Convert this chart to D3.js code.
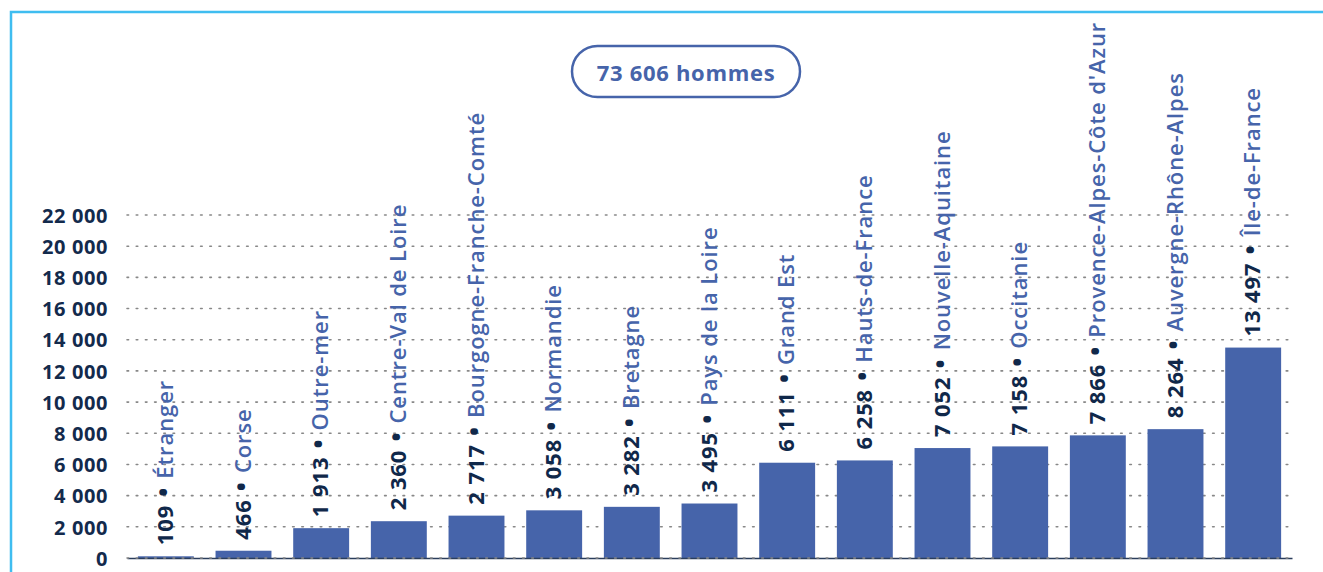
<!DOCTYPE html>
<html><head><meta charset="utf-8">
<script src="https://cdn.jsdelivr.net/npm/d3@7"></script>
<style>body{margin:0;background:#fff}svg{display:block}</style>
</head><body>
<svg id="c" width="1323" height="572"></svg>
<script>
const categories = ["Étranger","Corse","Outre-mer","Centre-Val de Loire","Bourgogne-Franche-Comté","Normandie","Bretagne","Pays de la Loire","Grand Est","Hauts-de-France","Nouvelle-Aquitaine","Occitanie","Provence-Alpes-Côte d'Azur","Auvergne-Rhône-Alpes","Île-de-France"];
const values = [109,466,1913,2360,2717,3058,3282,3495,6111,6258,7052,7158,7866,8264,13497];
const yTicks = [0,2000,4000,6000,8000,10000,12000,14000,16000,18000,20000,22000];
const title = "73 606 hommes";

const svg = d3.select("#c");
const fmt = v => d3.format(",")(v).replace(/,/g, " ");
const FONT = "'Open Sans', 'Noto Sans', sans-serif";

// frame
svg.append("path").attr("d","M11,572 V12 H1323").attr("fill","none").attr("stroke","#3fbdf0").attr("stroke-width",2.5);

const x = d3.scaleBand().domain(categories).range([127,1292]).paddingInner(0.28).paddingOuter(0.14);
const y = d3.scaleLinear().domain([0,22000]).range([558,215]);

// y axis labels
const yAxis = d3.axisLeft(y).tickValues(yTicks).tickFormat(fmt).tickSize(0).tickPadding(0);
const ga = svg.append("g").attr("transform","translate(108,0)").call(yAxis);
ga.select(".domain").remove();
ga.selectAll("text").attr("font-family",FONT).attr("font-weight","bold").attr("font-size",20)
  .attr("letter-spacing",0.6).attr("fill","#132a4c").attr("dy","0.36em");

// grid
svg.append("g").selectAll("line").data(yTicks.filter(d=>d>0)).join("line")
  .attr("x1",127).attr("x2",1292).attr("y1",d=>y(d)).attr("y2",d=>y(d))
  .attr("stroke","#888").attr("stroke-width",1.6).attr("stroke-dasharray","1.6,7.6").attr("stroke-linecap","round");

// bars
svg.append("g").selectAll("rect").data(values).join("rect")
  .attr("x",(d,i)=>x(categories[i])).attr("width",x.bandwidth())
  .attr("y",d=>y(d)).attr("height",d=>y(0)-y(d)).attr("fill","#4664aa");

// baseline
const gb = svg.append("g").attr("transform","translate(0,558)").call(d3.axisBottom(x).tickSize(0).tickFormat(""));
gb.select(".domain").attr("stroke","#2a3d5c").attr("stroke-width",1.3);
svg.append("line").attr("x1",127).attr("x2",1292).attr("y1",558).attr("y2",558)
  .attr("stroke","#888").attr("stroke-width",1.6).attr("stroke-dasharray","1.6,7.6").attr("stroke-linecap","round");

// labels
const lab = svg.append("g").selectAll("text").data(values).join("text")
  .attr("transform",(d,i)=>`translate(${x(categories[i])+x.bandwidth()/2+7},${y(d)-11}) rotate(-90)`)
  .attr("font-family",FONT).attr("font-size",22).attr("letter-spacing",0.9);
lab.append("tspan").attr("font-weight","bold").attr("fill","#10284a").text(d=>fmt(d));
lab.append("tspan").attr("fill","#10284a").attr("font-weight","bold").text(" ");
lab.append("tspan").attr("fill","#10284a").attr("font-size",32).attr("dy",2).text("•");
lab.append("tspan").attr("fill","#4664aa").attr("dy",-2).text(" ");
lab.append("tspan").attr("fill","#4664aa").attr("font-weight",600).text((d,i)=>categories[i]);

// title
svg.append("rect").attr("x",572).attr("y",46).attr("width",228).attr("height",51).attr("rx",25.5)
  .attr("fill","#fff").attr("stroke","#4664aa").attr("stroke-width",2.5);
svg.append("text").attr("x",686).attr("y",81).attr("text-anchor","middle")
  .attr("font-family",FONT).attr("font-weight","bold").attr("font-size",22).attr("letter-spacing",0.7)
  .attr("fill","#4664aa").text(title);
</script>
</body></html>
